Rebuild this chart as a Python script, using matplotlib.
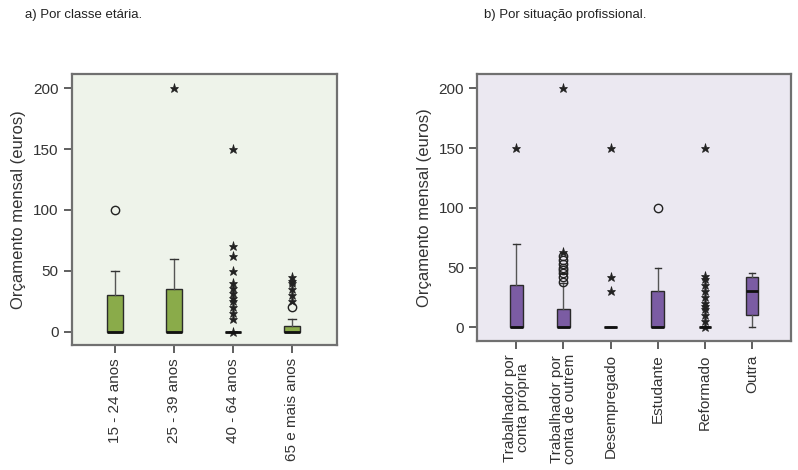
import matplotlib
matplotlib.use("Agg")
import matplotlib.pyplot as plt

plt.rcParams['font.family'] = ['Liberation Sans', 'DejaVu Sans']

# a) age classes
age_labels = ['15 - 24 anos', '25 - 39 anos', '40 - 64 anos', '65 e mais anos']
age_q1 = [0, 0, 0, 0]
age_med = [0, 0, 0, 0]
age_q3 = [30, 35, 0, 5]
age_lo = [0, 0, 0, 0]
age_hi = [50, 60, 0, 10]
age_circles = [[100], [], [], [20]]
age_stars = [[], [200],
             [0, 10, 15, 20, 25, 28, 32, 36, 40, 50, 62, 70, 150],
             [25, 30, 35, 40, 42, 45]]

# b) professional situation
job_labels = ['Trabalhador por\nconta própria', 'Trabalhador por\nconta de outrem',
              'Desempregado', 'Estudante', 'Reformado', 'Outra']
job_q1 = [0, 0, 0, 0, 0, 10]
job_med = [0, 0, 0, 0, 0, 30]
job_q3 = [35, 15, 0, 30, 0, 42]
job_lo = [0, 0, 0, 0, 0, 0]
job_hi = [70, 37, 0, 50, 0, 45]
job_circles = [[], [38, 42, 45, 48, 50, 53, 56, 60], [], [100], [], []]
job_stars = [[150], [63, 200], [30, 42, 150], [],
             [0, 5, 10, 15, 18, 20, 25, 30, 35, 40, 43, 150], []]


def draw_panel(ax, labels, q1, med, q3, lo, hi, circles, stars, color, bg, ylim, xlim, xfs):
    stats = []
    for i in range(len(labels)):
        stats.append(dict(q1=q1[i], med=med[i], q3=q3[i], whislo=lo[i], whishi=hi[i],
                          fliers=[], label=labels[i]))
    pos = list(range(1, len(labels) + 1))
    ax.bxp(stats, positions=pos, widths=0.27, patch_artist=True, showfliers=False,
           boxprops=dict(facecolor=color, edgecolor='#2a2a2a', linewidth=1.0),
           medianprops=dict(color='#111111', linewidth=2.0),
           whiskerprops=dict(color='#555555', linewidth=1.0),
           capprops=dict(color='#333333', linewidth=1.0))
    for p, vals in zip(pos, circles):
        if vals:
            ax.plot([p] * len(vals), vals, 'o', mfc='none', mec='#222222', ms=6, mew=1.0)
    for p, vals in zip(pos, stars):
        if vals:
            ax.plot([p] * len(vals), vals, '*', color='#222222', ms=6.5, mew=0.5)
    ax.set_facecolor(bg)
    ax.set_xlim(*xlim)
    ax.set_ylim(*ylim)
    ax.set_yticks([0, 50, 100, 150, 200])
    ax.set_xticks(pos)
    ax.set_xticklabels(labels, rotation=90, fontsize=xfs, color='#333333', linespacing=0.85)
    ax.tick_params(axis='both', direction='out', length=6, width=1.2, color='#444444',
                   labelsize=11, labelcolor='#333333')
    ax.set_ylabel('Orçamento mensal (euros)', fontsize=12, color='#333333', labelpad=5)
    for s in ax.spines.values():
        s.set_color('#707070')
        s.set_linewidth(1.6)


fig = plt.figure(figsize=(7.98, 4.70), dpi=100)
ax1 = fig.add_axes([0.0902, 0.266, 0.332, 0.577])
ax2 = fig.add_axes([0.598, 0.2745, 0.3935, 0.568])

draw_panel(ax1, age_labels, age_q1, age_med, age_q3, age_lo, age_hi, age_circles,
           age_stars, '#8aab4a', '#eef3ea', (-11, 212), (0.27, 4.76), 10.5)
draw_panel(ax2, job_labels, job_q1, job_med, job_q3, job_lo, job_hi, job_circles,
           job_stars, '#7b5ca3', '#ebe8f1', (-11.5, 212), (0.17, 6.83), 11.5)

fig.text(25 / 798, 1 - 15 / 470, 'a) Por classe etária.', fontsize=9.5, va='center',
         color='#222222')
fig.text(484 / 798, 1 - 15 / 470, 'b) Por situação profissional.', fontsize=9.5, va='center',
         color='#222222')

fig.savefig('out.png', dpi=100)
